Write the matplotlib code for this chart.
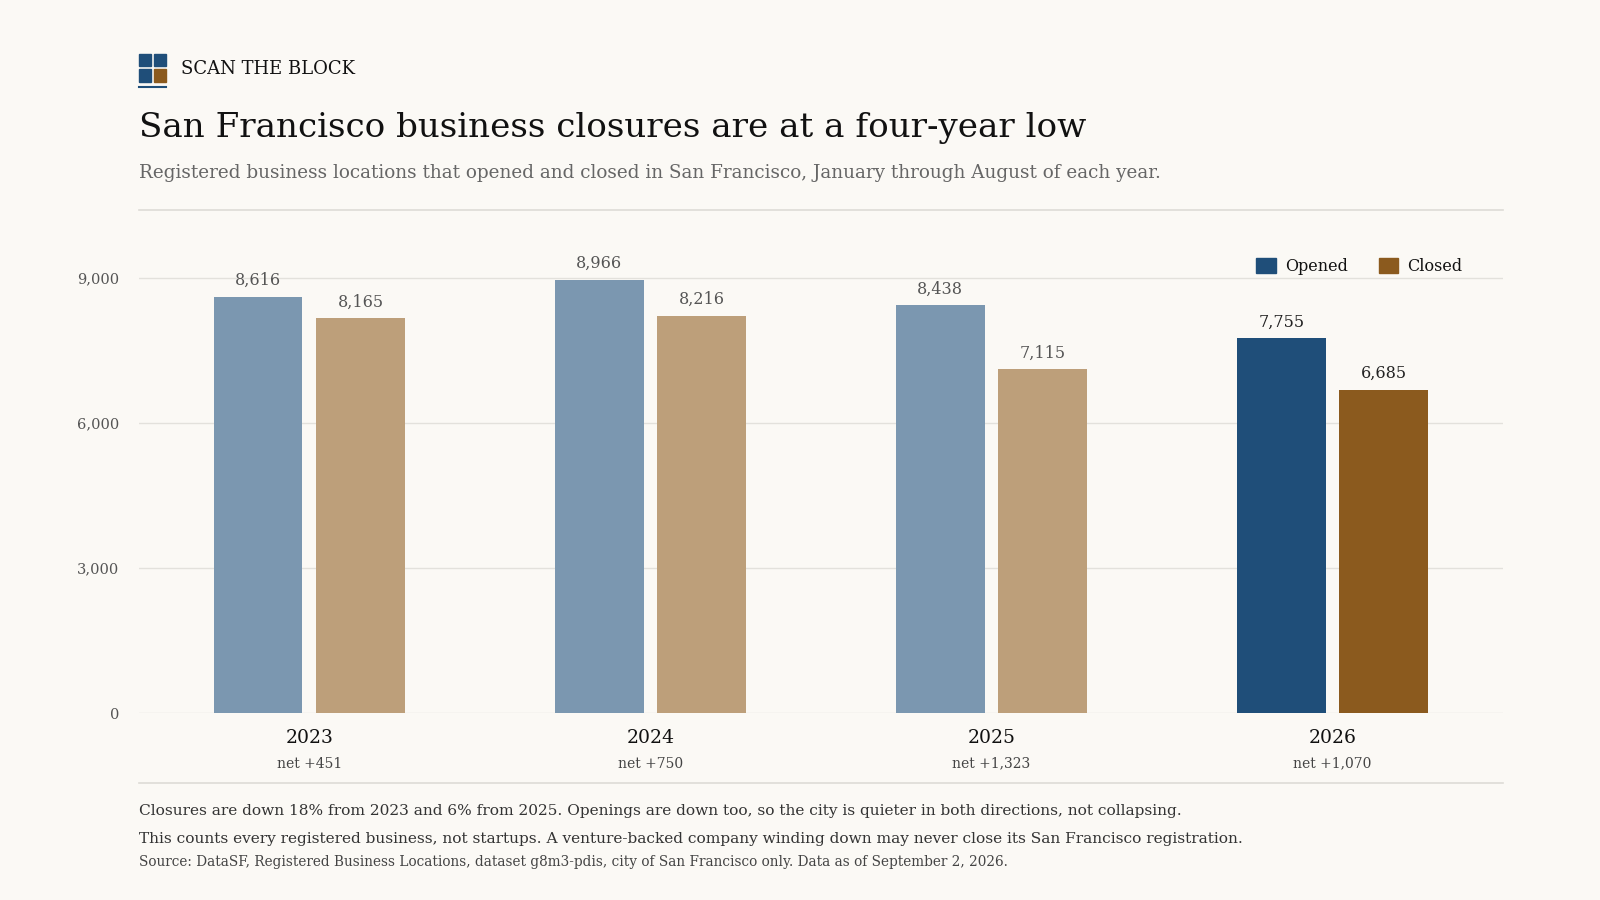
import matplotlib
matplotlib.use("Agg")
import matplotlib.pyplot as plt
from matplotlib.patches import Rectangle
from matplotlib.lines import Line2D

years = ["2023", "2024", "2025", "2026"]
opened = [8616, 8966, 8438, 7755]
closed = [8165, 8216, 7115, 6685]
yticks = [0, 3000, 6000, 9000]

BG = "#fbf9f5"
BLUE = "#1f4e79"
BROWN = "#8b5a1e"
BLUE_F = "#7b97b0"
BROWN_F = "#bd9f7a"
plt.rcParams['font.family'] = ['DejaVu Serif']

W, H = 1568, 882
fig = plt.figure(figsize=(16, 9), dpi=100, facecolor=BG)
def fx(x): return x / W
def fy(y): return 1 - y / H

ax = fig.add_axes([fx(136), fy(699), fx(1473) - fx(136), fy(225) - fy(699)], facecolor=BG)
w = 0.26
for i, (o, c) in enumerate(zip(opened, closed)):
    last = i == len(years) - 1
    ax.bar(i - 0.15, o, w, color=BLUE if last else BLUE_F, zorder=3)
    ax.bar(i + 0.15, c, w, color=BROWN if last else BROWN_F, zorder=3)
    col = "#222222" if last else "#555555"
    ax.text(i - 0.15, o + 160, f"{o:,}", ha="center", va="bottom", fontsize=11.5, color=col)
    ax.text(i + 0.15, c + 160, f"{c:,}", ha="center", va="bottom", fontsize=11.5, color=col)
    ax.text(i, -330, years[i], ha="center", va="top", fontsize=13.5, color="#111111", fontweight="medium")
    ax.text(i, -900, f"net +{o - c:,}", ha="center", va="top", fontsize=10, color="#444444")
ax.set_xlim(-0.5, 3.5)
ax.set_ylim(0, 10000)
ax.set_yticks(yticks)
ax.set_yticklabels([f"{v:,}" for v in yticks], fontsize=10.5, color="#555555")
ax.tick_params(axis="y", length=0, pad=14)
ax.set_xticks([])
for s in ax.spines.values():
    s.set_visible(False)
ax.grid(axis="y", color="#e3e1dc", lw=1, zorder=0)

# legend
fig.patches.append(Rectangle((fx(1231), fy(268)), fx(19), fy(253) - fy(268), color=BLUE, transform=fig.transFigure))
fig.text(fx(1259), fy(261), "Opened", fontsize=11.5, va="center", color="#111111")
fig.patches.append(Rectangle((fx(1351), fy(268)), fx(19), fy(253) - fy(268), color=BROWN, transform=fig.transFigure))
fig.text(fx(1379), fy(261), "Closed", fontsize=11.5, va="center", color="#111111")

# logo
for (x, y, c) in [(136, 53, BLUE), (151, 53, BLUE), (136, 68, BLUE), (151, 68, BROWN)]:
    fig.patches.append(Rectangle((fx(x), fy(y + 12)), fx(12), fy(y) - fy(y + 12), color=c, transform=fig.transFigure))
fig.lines.append(Line2D([fx(136), fx(163)], [fy(85), fy(85)], color=BLUE, lw=1.5, transform=fig.transFigure))
fig.text(fx(177), fy(68), "SCAN THE BLOCK", fontsize=13, va="center", color="#111111")

fig.text(fx(136), fy(125), "San Francisco business closures are at a four-year low", fontsize=24.6, va="center", color="#111111")
fig.text(fx(136), fy(170), "Registered business locations that opened and closed in San Francisco, January through August of each year.",
         fontsize=13.2, va="center", color="#666666")
for y in (206, 767):
    fig.lines.append(Line2D([fx(136), fx(1473)], [fy(y), fy(y)], color="#dddbd6", lw=1.2, transform=fig.transFigure))

fig.text(fx(136), fy(795), "Closures are down 18% from 2023 and 6% from 2025. Openings are down too, so the city is quieter in both directions, not collapsing.",
         fontsize=11.1, va="center", color="#333333")
fig.text(fx(136), fy(822), "This counts every registered business, not startups. A venture-backed company winding down may never close its San Francisco registration.",
         fontsize=11.1, va="center", color="#333333")
fig.text(fx(136), fy(845), "Source: DataSF, Registered Business Locations, dataset g8m3-pdis, city of San Francisco only. Data as of September 2, 2026.",
         fontsize=9.8, va="center", color="#444444")

fig.savefig("out.png", dpi=100, facecolor=BG)
